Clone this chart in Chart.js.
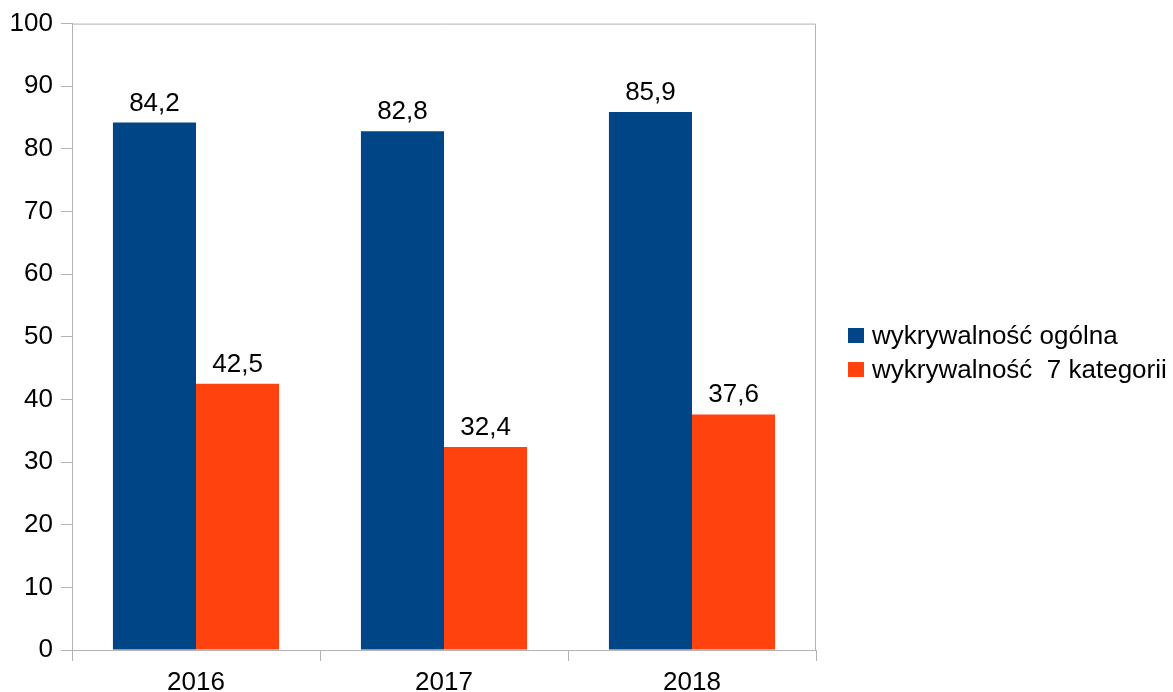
<!DOCTYPE html>
<html>
<head>
<meta charset="utf-8">
<script src="https://cdn.jsdelivr.net/npm/chart.js@4"></script>
<style>
  html, body { margin: 0; padding: 0; background: #fff; }
  #wrap { width: 1173px; height: 692px; }
</style>
</head>
<body>
<div id="wrap"><canvas id="chart" width="1173" height="692"></canvas></div>
<script>
const years = ["2016", "2017", "2018"];
const seriesNames = ["wykrywalność ogólna", "wykrywalność  7 kategorii"];
const overall = [84.2, 82.8, 85.9];
const sevenCategories = [42.5, 32.4, 37.6];
const yTicks = [0, 10, 20, 30, 40, 50, 60, 70, 80, 90, 100];

const fontFamily = "'Liberation Sans', Arial, sans-serif";
const fontSize = 26;
const axisGray = "#b3b3b3";

// frame around the plot (top + right edges)
const frame = {
  id: "frame",
  beforeDatasetsDraw(chart) {
    const { ctx, chartArea: a } = chart;
    ctx.save();
    ctx.strokeStyle = axisGray;
    ctx.lineWidth = 1;
    ctx.beginPath();
    ctx.moveTo(a.left, a.top + 0.5);
    ctx.lineTo(a.right - 0.5, a.top + 0.5);
    ctx.lineTo(a.right - 0.5, a.bottom);
    ctx.stroke();
    ctx.restore();
  },
};

// value labels above bars
const valueLabels = {
  id: "valueLabels",
  afterDatasetsDraw(chart) {
    const ctx = chart.ctx;
    ctx.save();
    ctx.font = fontSize + "px " + fontFamily;
    ctx.fillStyle = "#000";
    ctx.textAlign = "center";
    ctx.textBaseline = "alphabetic";
    chart.data.datasets.forEach((ds, i) => {
      chart.getDatasetMeta(i).data.forEach((bar, j) => {
        ctx.fillText(ds.data[j].toFixed(1).replace(".", ","), bar.x, bar.y - 12);
      });
    });
    ctx.restore();
  },
};

// legend on the right
const sideLegend = {
  id: "sideLegend",
  afterDraw(chart) {
    const ctx = chart.ctx;
    ctx.save();
    ctx.font = fontSize + "px " + fontFamily;
    ctx.textBaseline = "alphabetic";
    chart.data.datasets.forEach((ds, i) => {
      const y = 335 + i * 34;
      ctx.fillStyle = ds.backgroundColor;
      ctx.fillRect(848, y - 7, 16, 15);
      ctx.fillStyle = "#000";
      ctx.fillText(ds.label, 872, y + 9);
    });
    ctx.restore();
  },
};

new Chart(document.getElementById("chart"), {
  type: "bar",
  data: {
    labels: years,
    datasets: [
      { label: seriesNames[0], data: overall, backgroundColor: "#004586" },
      { label: seriesNames[1], data: sevenCategories, backgroundColor: "#ff420e" },
    ],
  },
  options: {
    responsive: false,
    animation: false,
    layout: { padding: { top: 22, right: 357, left: 0, bottom: 0 } },
    plugins: { legend: { display: false }, tooltip: { enabled: false } },
    datasets: { bar: { categoryPercentage: 0.67, barPercentage: 1.0 } },
    scales: {
      x: {
        offset: true,
        grid: { offset: true, drawOnChartArea: false, tickColor: axisGray, tickLength: 11 },
        border: { color: axisGray },
        ticks: { color: "#000", font: { family: fontFamily, size: fontSize }, padding: 6 },
        afterFit(scale) { scale.height = 42; },
      },
      y: {
        min: 0,
        max: 100,
        afterBuildTicks(scale) { scale.ticks = yTicks.map((v) => ({ value: v })); },
        grid: { drawOnChartArea: false, tickColor: axisGray, tickLength: 11 },
        border: { color: axisGray },
        ticks: { color: "#000", font: { family: fontFamily, size: fontSize }, padding: 8 },
        afterFit(scale) { scale.width = 72; },
      },
    },
  },
  plugins: [frame, valueLabels, sideLegend],
});
</script>
</body>
</html>
